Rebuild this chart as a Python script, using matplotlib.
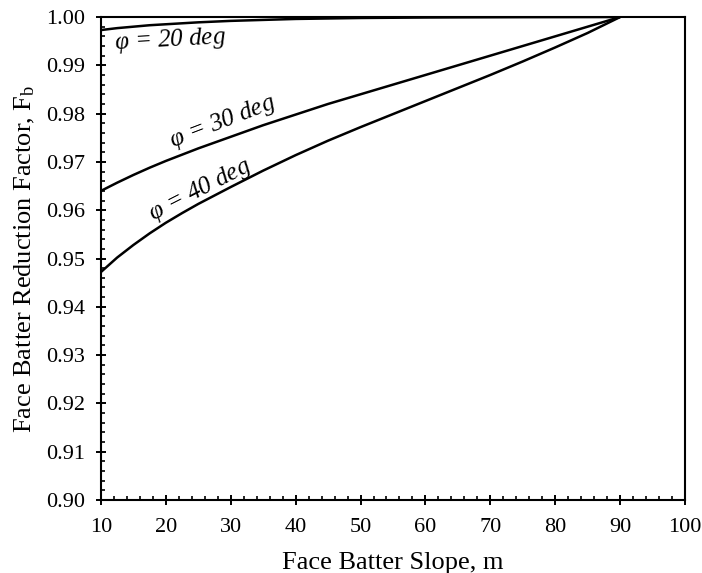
import numpy as np
import matplotlib
matplotlib.use("Agg")
import matplotlib.pyplot as plt
from matplotlib.ticker import MultipleLocator, AutoMinorLocator, FormatStrFormatter

plt.rcParams['font.family'] = ['Liberation Serif', 'DejaVu Serif']
plt.rcParams['mathtext.fontset'] = 'custom'
plt.rcParams['mathtext.rm'] = 'Liberation Serif'
plt.rcParams['mathtext.it'] = 'Liberation Serif:italic'

# face batter slope m (deg) and reduction factor Fb for each friction angle
m = [10, 12.5, 15, 17.5, 20, 22.5, 25, 30, 35, 40, 45, 50, 55, 60, 65, 70, 75, 80, 85, 90]
fb_20 = [0.9973, 0.9977, 0.9980, 0.9983, 0.9985, 0.9987, 0.9989, 0.9992, 0.9994,
         0.9996, 0.9997, 0.9998, 0.99985, 0.9999, 0.99993, 0.99995, 0.99997,
         0.99998, 0.99999, 1.0]
fb_30 = [0.9640, 0.9657, 0.9673, 0.9688, 0.9702, 0.9715, 0.9728, 0.9752, 0.9776,
         0.9798, 0.9820, 0.9840, 0.9860, 0.9880, 0.9900, 0.9920, 0.9940, 0.9960,
         0.9980, 1.0]
fb_40 = [0.9472, 0.9502, 0.9528, 0.9552, 0.9574, 0.9594, 0.9613, 0.9648, 0.9682,
         0.9714, 0.9744, 0.9772, 0.9799, 0.9826, 0.9853, 0.9880, 0.9908, 0.9937,
         0.9967, 1.0]

fig = plt.figure(figsize=(7.02, 5.73), dpi=100)
ax = fig.add_axes([0.1438, 0.1274, 0.8320, 0.8429])

for fb in (fb_20, fb_30, fb_40):
    ax.plot(m, fb, color='black', lw=1.8, solid_capstyle='butt')

ax.text(20.6, 0.9953, r'$\varphi$ = 20 deg', fontsize=18, style='italic',
        rotation=3, ha='center', va='center')
ax.text(28.8, 0.9783, r'$\varphi$ = 30 deg', fontsize=18, style='italic',
        rotation=21, ha='center', va='center')
ax.text(25.2, 0.9642, r'$\varphi$ = 40 deg', fontsize=18, style='italic',
        rotation=27, ha='center', va='center')

ax.set_xlim(10, 100)
ax.set_ylim(0.90, 1.00)
ax.xaxis.set_major_locator(MultipleLocator(10))
ax.yaxis.set_major_locator(MultipleLocator(0.01))
ax.xaxis.set_minor_locator(AutoMinorLocator(5))
ax.yaxis.set_minor_locator(AutoMinorLocator(5))
ax.yaxis.set_major_formatter(FormatStrFormatter('%.2f'))

ax.tick_params(which='major', direction='inout', length=7.5, width=1.4,
               labelsize=16)
ax.tick_params(axis='x', which='major', pad=9)
ax.tick_params(axis='y', which='major', pad=8)
ax.tick_params(which='minor', direction='in', length=3, width=1.2)
for s in ax.spines.values():
    s.set_linewidth(1.5)

ax.set_xlabel('Face Batter Slope, m', fontsize=19, labelpad=11)
ax.set_ylabel(r'Face Batter Reduction Factor, F$_\mathregular{b}$', fontsize=19,
              labelpad=6)

fig.savefig('out.png', dpi=100)
